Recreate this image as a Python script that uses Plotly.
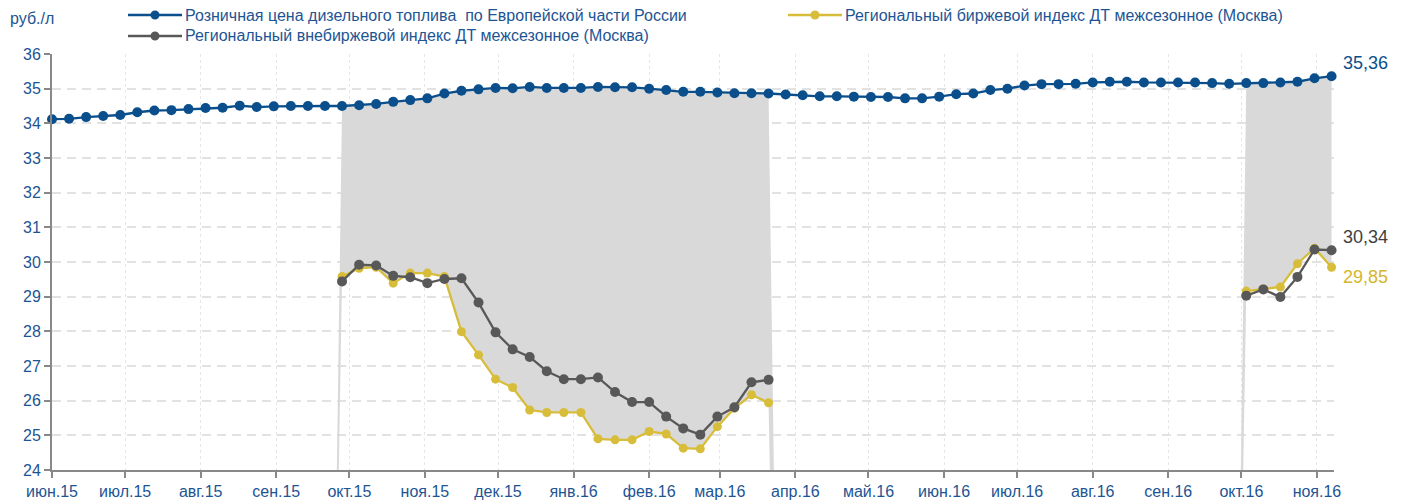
import pandas as pd
import plotly.graph_objects as go

# Weekly observation dates (Mondays)
dates = pd.date_range("2015-06-01", periods=76, freq="7D")

# Retail diesel price, European part of Russia, RUB/l
retail = [
    34.12, 34.13, 34.18, 34.21, 34.24, 34.32, 34.37, 34.38, 34.41, 34.44,
    34.45, 34.51, 34.47, 34.49, 34.50, 34.50, 34.50, 34.50, 34.52, 34.56,
    34.62, 34.67, 34.72, 34.86, 34.94, 34.98, 35.02, 35.01, 35.05, 35.02,
    35.02, 35.02, 35.05, 35.04, 35.04, 35.00, 34.96, 34.91, 34.91, 34.89,
    34.87, 34.87, 34.86, 34.83, 34.81, 34.78, 34.78, 34.77, 34.76, 34.76,
    34.72, 34.72, 34.77, 34.84, 34.86, 34.96, 35.00, 35.09, 35.13, 35.13,
    35.14, 35.18, 35.20, 35.20, 35.18, 35.18, 35.18, 35.18, 35.16, 35.14,
    35.16, 35.16, 35.18, 35.20, 35.30, 35.36,
]

# Regional exchange index, off-season diesel (Moscow)
exchange = (
    [None] * 17
    + [29.58, 29.82, 29.85, 29.39, 29.68, 29.68, 29.58, 27.99, 27.32, 26.62,
       26.38, 25.73, 25.66, 25.66, 25.66, 24.90, 24.87, 24.87, 25.11, 25.04,
       24.63, 24.61, 25.25, 25.78, 26.17, 25.94]
    + [None] * 27
    + [29.16, 29.22, 29.28, 29.95, 30.40, 29.85]
)

# Regional OTC index, off-season diesel (Moscow)
otc = (
    [None] * 17
    + [29.44, 29.92, 29.90, 29.60, 29.56, 29.39, 29.51, 29.53, 28.83, 27.97,
       27.48, 27.26, 26.85, 26.62, 26.62, 26.67, 26.25, 25.96, 25.96, 25.54,
       25.20, 25.02, 25.54, 25.81, 26.53, 26.60]
    + [None] * 27
    + [29.03, 29.21, 28.99, 29.57, 30.36, 30.34]
)

month_ticks = pd.date_range("2015-06-01", "2016-11-01", freq="MS")
month_names = ["янв", "фев", "мар", "апр", "май", "июн",
               "июл", "авг", "сен", "окт", "ноя", "дек"]
tick_labels = [f"{month_names[d.month - 1]}.{d.year % 100:02d}" for d in month_ticks]

names = [
    "Розничная цена дизельного топлива  по Европейской части России",
    "Региональный биржевой индекс ДТ межсезонное (Москва)",
    "Региональный внебиржевой индекс ДТ межсезонное (Москва)",
]

BLUE = "#0a4f8c"
YELLOW = "#d8bd3a"
DARK = "#585858"
FILL = "#d9d9d9"
TEXT = "#1d5594"
FONT = "Arial, Liberation Sans, sans-serif"

fig = go.Figure()

# Shaded spread between retail price and the exchange index;
# gaps in the index fall to zero, as in an area chart
n = len(dates)
segments = []
start = None
for i, v in enumerate(exchange):
    if v is not None and start is None:
        start = i
    if v is None and start is not None:
        segments.append((start, i - 1))
        start = None
if start is not None:
    segments.append((start, n - 1))

for i0, i1 in segments:
    xs_top, ys_top, xs_bot, ys_bot = [], [], [], []
    if i0 > 0:
        xs_top.append(dates[i0 - 1]); ys_top.append(0)
    for i in range(i0, i1 + 1):
        xs_top.append(dates[i]); ys_top.append(retail[i])
        xs_bot.append(dates[i]); ys_bot.append(exchange[i])
    if i1 < n - 1:
        xs_top.append(dates[i1 + 1]); ys_top.append(0)
        xs_bot.append(dates[i1 + 1]); ys_bot.append(0)
    if i0 > 0:
        xs_bot.insert(0, dates[i0 - 1]); ys_bot.insert(0, 0)
    fig.add_trace(go.Scatter(
        x=xs_top + xs_bot[::-1], y=ys_top + ys_bot[::-1],
        mode="lines", fill="toself", fillcolor=FILL,
        line=dict(width=0, color=FILL), hoverinfo="skip", showlegend=False,
    ))

series = [
    (exchange, names[1], YELLOW, 9),
    (otc, names[2], DARK, 10),
    (retail, names[0], BLUE, 10),
]
for vals, name, color, msize in series:
    fig.add_trace(go.Scatter(
        x=dates, y=vals, name=name, mode="lines+markers",
        line=dict(color=color, width=2.3),
        marker=dict(color=color, size=msize),
        connectgaps=False, cliponaxis=False, showlegend=False,
    ))

# Plot area in pixels
L, R, T, B = 52, 1334, 54, 470


def xp(px):
    return (px - L) / (R - L)


def yp(py):
    return (B - py) / (B - T)


annotations = []
shapes = []

# Legend entries
legend_items = [
    (names[0], BLUE, 128, 15),
    (names[1], YELLOW, 788, 15),
    (names[2], DARK, 128, 36),
]
for name, color, x0, yc in legend_items:
    shapes.append(dict(type="line", xref="paper", yref="paper",
                       x0=xp(x0), x1=xp(x0 + 54), y0=yp(yc), y1=yp(yc),
                       line=dict(color=color, width=2.5)))
    shapes.append(dict(type="circle", xref="paper", yref="paper",
                       x0=xp(x0 + 27 - 4.5), x1=xp(x0 + 27 + 4.5),
                       y0=yp(yc + 4.5), y1=yp(yc - 4.5),
                       fillcolor=color, line=dict(color=color, width=0)))
    annotations.append(dict(xref="paper", yref="paper", x=xp(x0 + 55), y=yp(yc),
                            xanchor="left", yanchor="middle", showarrow=False,
                            text=name, font=dict(family=FONT, size=16, color=TEXT)))

# Unit label
annotations.append(dict(xref="paper", yref="paper", x=xp(8), y=yp(18),
                        xanchor="left", yanchor="middle", showarrow=False,
                        text="руб./л", font=dict(family=FONT, size=16, color=TEXT)))

# End-of-series value labels
for vals, color, yshift in [(retail, BLUE, 13), (otc, "#404040", 13), (exchange, "#d4b62c", -10)]:
    v = vals[-1]
    annotations.append(dict(x=dates[-1], y=v, xanchor="left", yanchor="middle",
                            xshift=9, yshift=yshift, showarrow=False,
                            text=f"{v:.2f}".replace(".", ","),
                            font=dict(family=FONT, size=18, color=color)))

fig.update_layout(
    width=1404, height=502,
    margin=dict(l=L, r=1404 - R, t=T, b=502 - B, autoexpand=False),
    paper_bgcolor="white", plot_bgcolor="white",
    font=dict(family=FONT, size=16, color=TEXT),
    annotations=annotations, shapes=shapes,
)
fig.update_xaxes(
    type="date", automargin=False,
    range=[pd.Timestamp("2015-06-01"), pd.Timestamp("2016-11-08")],
    tickmode="array", tickvals=month_ticks, ticktext=tick_labels,
    ticks="outside", ticklen=6, tickwidth=1.5, tickcolor="#888888",
    showline=True, linecolor="#888888", linewidth=2,
    showgrid=True, gridcolor="#e6e6e6", griddash="dot", gridwidth=1,
    tickfont=dict(family=FONT, size=16, color=TEXT), zeroline=False,
)
fig.update_yaxes(
    range=[24, 36], dtick=1, tick0=24, automargin=False,
    ticks="outside", ticklen=6, tickwidth=1.5, tickcolor="#888888",
    showline=True, linecolor="#888888", linewidth=2,
    showgrid=True, gridcolor="#e2e2e2", griddash="9px,6px", gridwidth=2,
    tickfont=dict(family=FONT, size=16, color=TEXT), zeroline=False,
)

fig.write_html("out.html")
